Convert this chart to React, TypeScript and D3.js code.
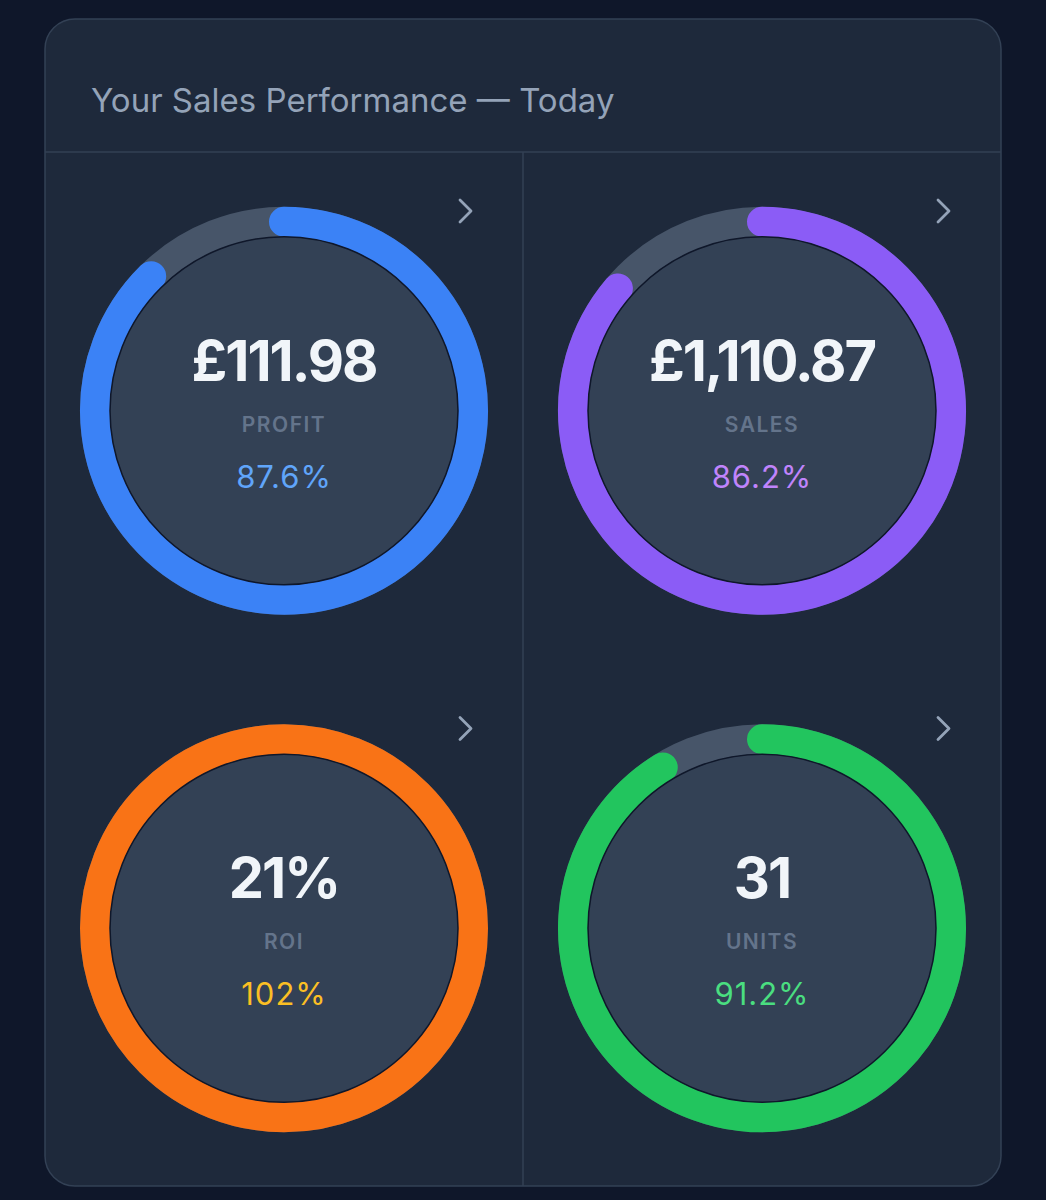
import React from "react";
import * as d3 from "d3";

const metrics = ["PROFIT", "SALES", "ROI", "UNITS"];
const values = ["£111.98", "£1,110.87", "21%", "31"];
const percents = [87.6, 86.2, 102, 91.2];
const percentLabels = ["87.6%", "86.2%", "102%", "91.2%"];
const ringColors = ["#3b82f6", "#8b5cf6", "#f97316", "#22c55e"];
const pctColors = ["#60a5fa", "#c084fc", "#fbbf24", "#4ade80"];
const title = "Your Sales Performance — Today";

const W = 1046;
const H = 1200;
const card = { x: 45, y: 19, w: 956, h: 1167, r: 30 };
const headerH = 133;
const ringR = 189;
const ringW = 30;
const diskR = 174;

export default function App() {
  const font = "Inter, 'Noto Sans', sans-serif";
  const gridTop = card.y + headerH;
  const col = d3.scaleBand<number>().domain([0, 1]).range([card.x, card.x + card.w]);
  const row = d3.scaleBand<number>().domain([0, 1]).range([gridTop, gridTop + 1035]);
  const angle = d3.scaleLinear().domain([0, 100]).range([0, 2 * Math.PI]).clamp(true);

  return (
    <svg width={W} height={H} style={{ position: "absolute", left: 0, top: 0 }} fontFamily={font}>
      <rect x={0} y={0} width={W} height={H} fill="#0f172a" />
      <rect x={card.x} y={card.y} width={card.w} height={card.h} rx={card.r} fill="#1e293b" stroke="#334155" strokeWidth={1.5} />
      <text x={91} y={112} fontSize={33} fill="#94a3b8" fontWeight={400}>{title}</text>
      <line x1={card.x} x2={card.x + card.w} y1={gridTop} y2={gridTop} stroke="#334155" strokeWidth={1.5} />
      <line x1={card.x + card.w / 2} x2={card.x + card.w / 2} y1={gridTop} y2={card.y + card.h} stroke="#334155" strokeWidth={1.5} />
      {metrics.map((m, i) => {
        const c = i % 2;
        const r = Math.floor(i / 2);
        const cx = (col(c) as number) + col.bandwidth() / 2;
        const cy = (row(r) as number) + row.bandwidth() / 2;
        const a = angle(percents[i]);
        const p = d3.path();
        p.arc(cx, cy, ringR, -Math.PI / 2, -Math.PI / 2 + a);
        const full = percents[i] >= 100;
        const chevX = (col(c) as number) + col.bandwidth() - 58;
        const chevY = (row(r) as number) + 59;
        return (
          <g key={m}>
            <circle cx={cx} cy={cy} r={ringR} fill="none" stroke="#475569" strokeWidth={ringW} />
            {full ? (
              <circle cx={cx} cy={cy} r={ringR} fill="none" stroke={ringColors[i]} strokeWidth={ringW} />
            ) : (
              <path d={p.toString()} fill="none" stroke={ringColors[i]} strokeWidth={ringW} strokeLinecap="round" />
            )}
            <circle cx={cx} cy={cy} r={diskR} fill="#334155" stroke="#0f172a" strokeWidth={1.5} />
            <text x={cx} y={cy - 30} textAnchor="middle" fontSize={56} fontWeight={700} fill="#f1f5f9" letterSpacing={-2}>{values[i]}</text>
            <text x={cx} y={cy + 21} textAnchor="middle" fontSize={21} fontWeight={600} fill="#64748b" letterSpacing={1.5}>{m}</text>
            <text x={cx} y={cy + 77} textAnchor="middle" fontSize={31} fontWeight={400} fill={pctColors[i]} letterSpacing={1}>{percentLabels[i]}</text>
            <path d={`M${chevX - 5},${chevY - 11} L${chevX + 6},${chevY} L${chevX - 5},${chevY + 11}`} fill="none" stroke="#94a3b8" strokeWidth={2.8} strokeLinecap="round" strokeLinejoin="round" />
          </g>
        );
      })}
    </svg>
  );
}
